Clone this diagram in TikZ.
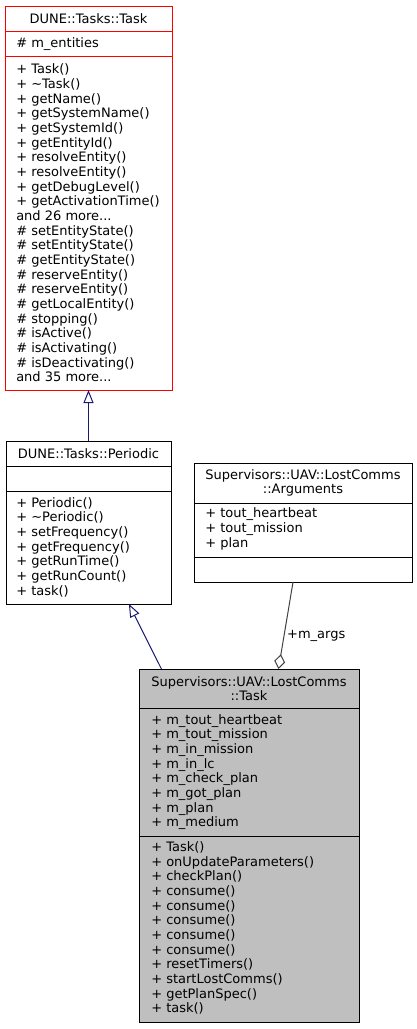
\documentclass[tikz,border=0pt]{standalone}
\usepackage{fontspec}
\setmainfont{DejaVu Sans}
\usepackage{tikz}
\usetikzlibrary{arrows.meta}
\newcommand{\umlsize}{\fontsize{9.75}{11}\selectfont}
\definecolor{xred}{HTML}{FF0000}
\definecolor{xnavy}{HTML}{191970}
\definecolor{xgrey}{HTML}{404040}
\definecolor{xfill}{HTML}{BFBFBF}
\tikzset{
  classbox/.style = {draw=black, fill=white, line width=0.75pt, inner sep=0pt, outer sep=0pt},
  classname/.style = {align=center, inner sep=0pt, font=\umlsize},
  members/.style = {anchor=west, align=left, inner sep=0pt, font=\umlsize},
  divider/.style = {line width=0.75pt, draw=#1},
  inherit/.style = {xnavy, line width=0.75pt, -{Triangle[open, length=9.75pt, width=7.5pt]}},
  aggregate/.style = {xgrey, line width=0.75pt, -{Diamond[open, length=11.25pt, width=8.25pt]}},
}

\begin{document}
\begin{tikzpicture}[x=0.75pt, y=-0.75pt]
      \useasboundingbox (0,0) rectangle (417,1029);

      % DUNE::Tasks::Task
      \node[classbox, draw=xred, minimum width=125.25pt, minimum height=288pt] (dunetask) at (88.5,198) {};
      \draw[divider=xred] (dunetask.west |- 0,31.5) -- (dunetask.east |- 0,31.5);
      \draw[divider=xred] (dunetask.west |- 0,56.5) -- (dunetask.east |- 0,56.5);
      \node[classname] (dunetask-name) at (88.5,18.75) {DUNE::Tasks::Task};
      \node[members] (dunetask-attr) at (16,44) {\# m\_entities};
      \node[members] (dunetask-ops) at (16,223) {+ Task()\\+ \textasciitilde Task()\\+ getName()\\+ getSystemName()\\+ getSystemId()\\+ getEntityId()\\+ resolveEntity()\\+ resolveEntity()\\+ getDebugLevel()\\+ getActivationTime()\\and 26 more...\\\# setEntityState()\\\# setEntityState()\\\# getEntityState()\\\# reserveEntity()\\\# reserveEntity()\\\# getLocalEntity()\\\# stopping()\\\# isActive()\\\# isActivating()\\\# isDeactivating()\\and 35 more...};

      % DUNE::Tasks::Periodic
      \node[classbox, minimum width=123.75pt, minimum height=122.25pt] (periodic) at (88.5,522.5) {};
      \draw[divider=black] (periodic.west |- 0,466) -- (periodic.east |- 0,466);
      \draw[divider=black] (periodic.west |- 0,491) -- (periodic.east |- 0,491);
      \node[classname] (periodic-name) at (88.5,453.5) {DUNE::Tasks::Periodic};
      \node[members] (periodic-ops) at (16,547) {+ Periodic()\\+ \textasciitilde Periodic()\\+ setFrequency()\\+ getFrequency()\\+ getRunTime()\\+ getRunCount()\\+ task()};

      % Supervisors::UAV::LostComms::Arguments
      \node[classbox, minimum width=163.5pt, minimum height=89.25pt] (args) at (303,522.5) {};
      \draw[divider=black] (args.west |- 0,503) -- (args.east |- 0,503);
      \draw[divider=black] (args.west |- 0,557) -- (args.east |- 0,557);
      \node[classname] (args-name) at (303,483) {Supervisors::UAV::LostComms\\::Arguments};
      \node[members] (args-attr) at (205,529) {+ tout\_heartbeat\\+ tout\_mission\\+ plan};

      % Supervisors::UAV::LostComms::Task
      \node[classbox, fill=xfill, minimum width=165pt, minimum height=264.75pt] (lctask) at (249,845.5) {};
      \draw[divider=black] (lctask.west |- 0,708) -- (lctask.east |- 0,708);
      \draw[divider=black] (lctask.west |- 0,836) -- (lctask.east |- 0,836);
      \node[classname] (lctask-name) at (249,688.5) {Supervisors::UAV::LostComms\\::Task};
      \node[members] (lctask-attr) at (151,772) {+ m\_tout\_heartbeat\\+ m\_tout\_mission\\+ m\_in\_mission\\+ m\_in\_lc\\+ m\_check\_plan\\+ m\_got\_plan\\+ m\_plan\\+ m\_medium};
      \node[members] (lctask-ops) at (151,928) {+ Task()\\+ onUpdateParameters()\\+ checkPlan()\\+ consume()\\+ consume()\\+ consume()\\+ consume()\\+ consume()\\+ resetTimers()\\+ startLostComms()\\+ getPlanSpec()\\+ task()};

      \draw[inherit] (periodic) -- (dunetask);
      \draw[inherit] (lctask) -- (periodic);
      \draw[aggregate] (args) -- (lctask) node[pos=0.62, anchor=west, inner sep=2pt, text=black, font=\umlsize] (args-label) {+m\_args};
    \end{tikzpicture}
\end{document}
